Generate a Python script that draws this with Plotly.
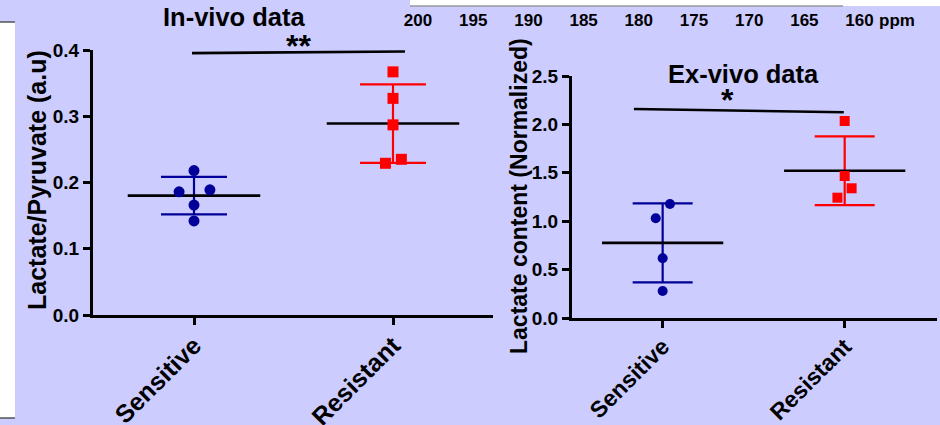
import numpy as np
import plotly.graph_objects as go

# ---------------- data ----------------
groups = ["Sensitive", "Resistant"]
invivo_sensitive = [0.218, 0.186, 0.189, 0.166, 0.142]
invivo_resistant = [0.367, 0.327, 0.287, 0.229, 0.235]
exvivo_sensitive = [1.178, 1.030, 0.617, 0.279]
exvivo_resistant = [2.035, 1.467, 1.340, 1.243]
jitter_invivo_s = [0.0, -0.075, 0.08, 0.0, 0.0]
jitter_invivo_r = [0.0, 0.0, 0.0, -0.038, 0.042]
jitter_exvivo_s = [0.04, -0.038, 0.0, 0.0]
jitter_exvivo_r = [0.0, 0.0, 0.038, -0.04]
invivo_ticks = [0.0, 0.1, 0.2, 0.3, 0.4]
exvivo_ticks = [0.0, 0.5, 1.0, 1.5, 2.0, 2.5]
ppm_ticks = [200, 195, 190, 185, 180, 175, 170, 165, 160]
invivo_sig = "**"
exvivo_sig = "*"
invivo_sig_y = [0.3953, 0.3977]
exvivo_sig_y = [2.159, 2.125]

W, H = 940, 425
BG = "#CCCCFF"
BLUE = "#000099"
RED = "#FF0000"
FONT = "Liberation Sans, Arial, sans-serif"

def px_x(p):
    return p / W

def px_y(p):
    return 1 - p / H

fig = go.Figure()


def add_group(x0, vals, jit, color, symbol, size, xa, ya, cap):
    mean = float(np.mean(vals))
    sd = float(np.std(vals, ddof=1))
    fig.add_trace(go.Scatter(
        x=[x0], y=[mean], mode="markers",
        marker=dict(size=1, color=color, opacity=0),
        error_y=dict(type="data", array=[sd], color=color, thickness=2.2,
                     width=cap, visible=True),
        xaxis=xa, yaxis=ya, showlegend=False, hoverinfo="skip"))
    fig.add_trace(go.Scatter(
        x=[x0 - 0.333, x0 + 0.333], y=[mean, mean], mode="lines",
        line=dict(color="black", width=2.6),
        xaxis=xa, yaxis=ya, showlegend=False, hoverinfo="skip"))
    fig.add_trace(go.Scatter(
        x=[x0 + j for j in jit], y=vals, mode="markers",
        marker=dict(symbol=symbol, size=size, color=color, line=dict(width=0)),
        xaxis=xa, yaxis=ya, showlegend=False, cliponaxis=False))


add_group(0, invivo_sensitive, jitter_invivo_s, BLUE, "circle", 11, "x", "y", 33)
add_group(1, invivo_resistant, jitter_invivo_r, RED, "square", 11, "x", "y", 33)
add_group(0, exvivo_sensitive, jitter_exvivo_s, BLUE, "circle", 10, "x2", "y2", 30)
add_group(1, exvivo_resistant, jitter_exvivo_r, RED, "square", 10, "x2", "y2", 30)

# significance bars
fig.add_shape(type="line", xref="x", yref="y", x0=-0.01, x1=1.06,
              y0=invivo_sig_y[0], y1=invivo_sig_y[1],
              line=dict(color="black", width=2.6))
fig.add_shape(type="line", xref="x2", yref="y2", x0=-0.158, x1=0.995,
              y0=exvivo_sig_y[0], y1=exvivo_sig_y[1],
              line=dict(color="black", width=2.6))

axis_common = dict(showgrid=False, zeroline=False, showline=True,
                   linecolor="black", linewidth=3, ticks="outside",
                   ticklen=7, tickwidth=3, tickcolor="black", fixedrange=True,
                   automargin=False)

# left panel axes
fig.update_layout(
    xaxis=dict(domain=[px_x(93), px_x(493)], range=[-0.5075, 1.5025],
               tickvals=[0, 1], ticktext=groups, tickangle=-45,
               ticklabelstandoff=-4,
               tickfont=dict(family=FONT, size=25, color="black", weight="bold"),
               anchor="y", **axis_common),
    yaxis=dict(domain=[px_y(315), px_y(50)], range=[0, 0.4],
               tickvals=invivo_ticks, tickformat=".1f",
               tickfont=dict(family=FONT, size=19, color="black", weight="bold"),
               anchor="x", **axis_common),
    xaxis2=dict(domain=[px_x(572), px_x(937)], range=[-0.498, 1.507],
                tickvals=[0, 1], ticktext=groups, tickangle=-45,
                ticklabelstandoff=-4,
                tickfont=dict(family=FONT, size=23, color="black", weight="bold"),
                anchor="y2", **axis_common),
    yaxis2=dict(domain=[px_y(318), px_y(76)], range=[0, 2.5],
                tickvals=exvivo_ticks, tickformat=".1f",
                tickfont=dict(family=FONT, size=19, color="black", weight="bold"),
                anchor="x2", **axis_common),
    # top ppm scale (fragment of a neighbouring spectrum)
    xaxis3=dict(domain=[px_x(410), px_x(875)], range=[200.73, 158.6],
                tickvals=ppm_ticks, showline=False, showgrid=False,
                zeroline=False, ticks="", anchor="free",
                position=px_y(8), side="bottom", fixedrange=True, automargin=False,
                tickfont=dict(family=FONT, size=17, color="black", weight="bold")),
)

# invisible trace to activate xaxis3
fig.add_trace(go.Scatter(x=[180], y=[0], xaxis="x3", yaxis="y", mode="markers",
                         marker=dict(opacity=0), showlegend=False, hoverinfo="skip"))

annotations = [
    dict(text="In-vivo data", x=px_x(234), y=px_y(17), xref="paper", yref="paper",
         showarrow=False, xanchor="center", yanchor="middle",
         font=dict(family=FONT, size=25.5, color="black", weight="bold")),
    dict(text="Ex-vivo data", x=px_x(743), y=px_y(73.5), xref="paper", yref="paper",
         showarrow=False, xanchor="center", yanchor="middle",
         font=dict(family=FONT, size=25.5, color="black", weight="bold")),
    dict(text=invivo_sig, x=px_x(298), y=px_y(46), xref="paper", yref="paper",
         showarrow=False, xanchor="center", yanchor="middle",
         font=dict(family=FONT, size=32, color="black", weight="bold")),
    dict(text=exvivo_sig, x=px_x(727.5), y=px_y(100), xref="paper", yref="paper",
         showarrow=False, xanchor="center", yanchor="middle",
         font=dict(family=FONT, size=32, color="black", weight="bold")),
    dict(text="ppm", x=px_x(897), y=px_y(20), xref="paper", yref="paper",
         showarrow=False, xanchor="center", yanchor="middle",
         font=dict(family=FONT, size=17, color="black", weight="bold")),
    dict(text="Lactate/Pyruvate (a.u)", x=px_x(37), y=px_y(180), xref="paper",
         yref="paper", showarrow=False, textangle=-90, xanchor="center",
         yanchor="middle",
         font=dict(family=FONT, size=25, color="black", weight="bold")),
    dict(text="Lactate content (Normalized)", x=px_x(519), y=px_y(196), xref="paper",
         yref="paper", showarrow=False, textangle=-90, xanchor="center",
         yanchor="middle",
         font=dict(family=FONT, size=23, color="black", weight="bold")),
]

shapes = [
    # white strip at top (neighbouring spectrum panel)
    dict(type="rect", xref="paper", yref="paper", x0=px_x(410), x1=1,
         y0=px_y(6), y1=1, fillcolor="white", line=dict(width=0), layer="below"),
    dict(type="line", xref="paper", yref="paper", x0=px_x(410), x1=px_x(843),
         y0=px_y(6), y1=px_y(6), line=dict(color="#999999", width=1.5)),
    # white panel at left edge
    dict(type="rect", xref="paper", yref="paper", x0=0, x1=px_x(15),
         y0=px_y(418), y1=px_y(22), fillcolor="white", line=dict(width=0), layer="below"),
    dict(type="line", xref="paper", yref="paper", x0=0, x1=px_x(15),
         y0=px_y(22), y1=px_y(22), line=dict(color="#555555", width=1.5)),
    dict(type="line", xref="paper", yref="paper", x0=0, x1=px_x(15),
         y0=px_y(418), y1=px_y(418), line=dict(color="#555555", width=1.5)),
]

fig.update_layout(
    width=W, height=H, margin=dict(l=0, r=0, t=0, b=0),
    paper_bgcolor=BG, plot_bgcolor="rgba(0,0,0,0)",
    showlegend=False, annotations=annotations,
    shapes=fig.layout.shapes + tuple(shapes),
    font=dict(family=FONT, color="black"),
)

fig.write_html("out.html",
               config={"displayModeBar": False, "staticPlot": True},
               post_script="document.body.style.margin='0';"
                           "document.body.style.padding='0';"
                           "document.body.style.background='" + BG + "';")
